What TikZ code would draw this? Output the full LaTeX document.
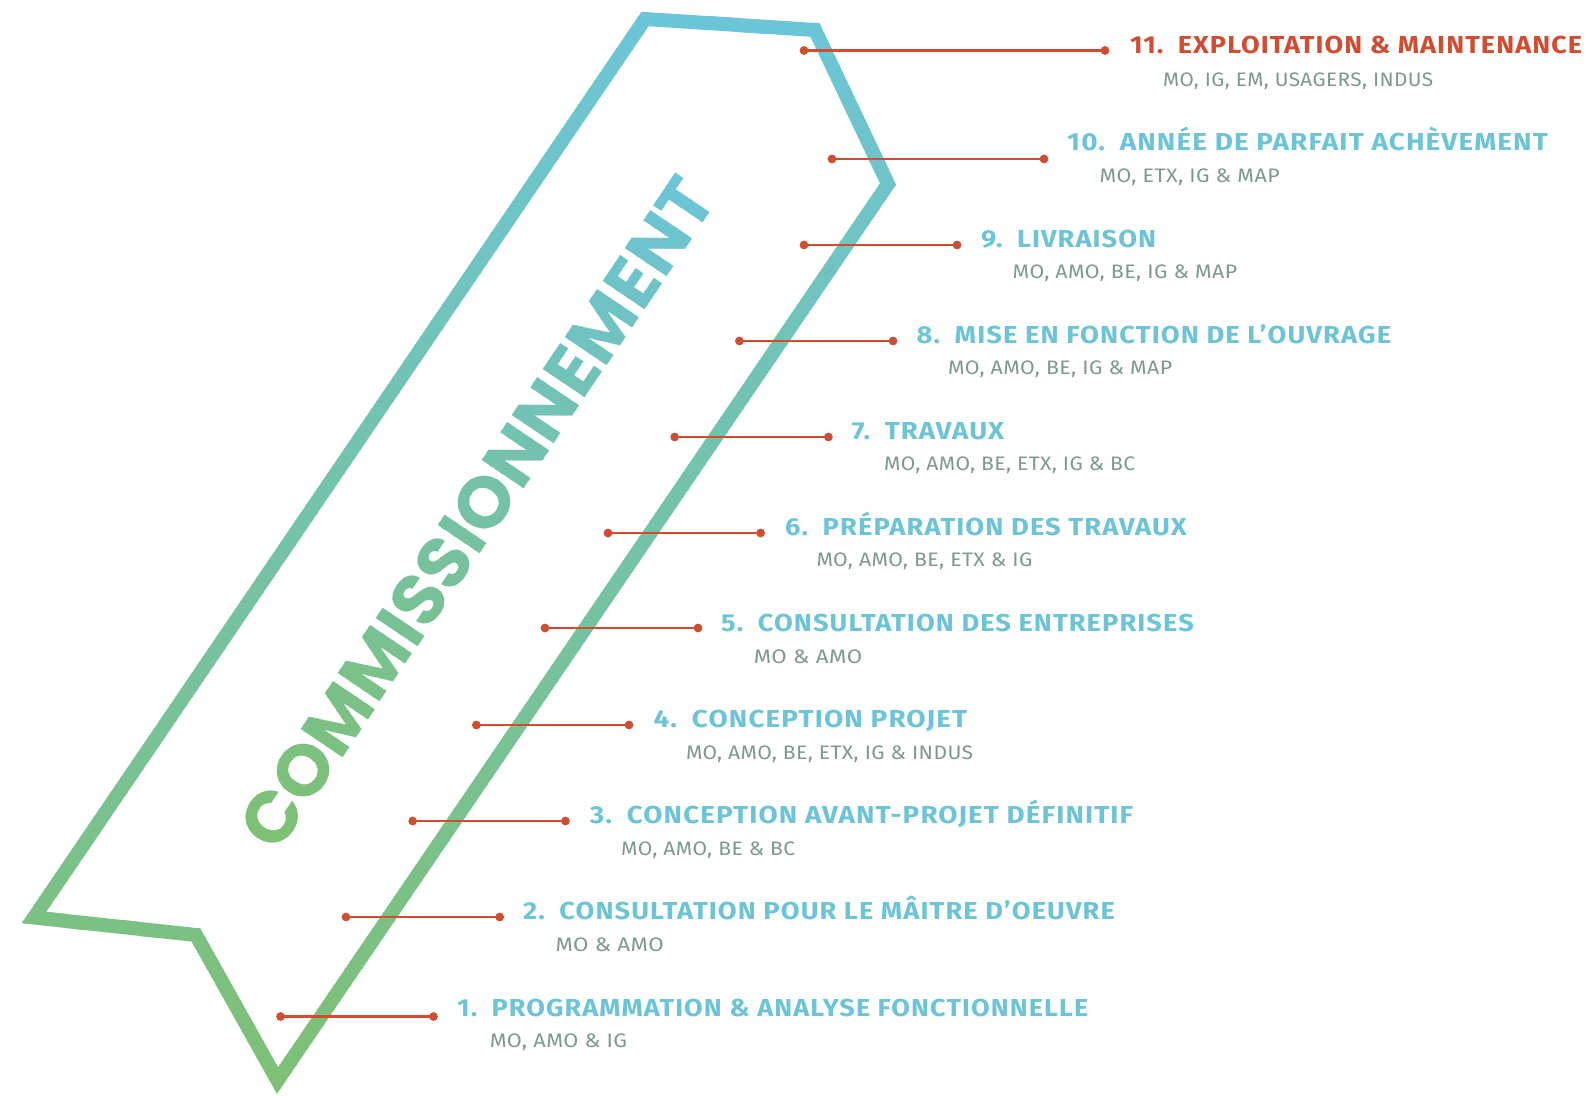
\documentclass[tikz,border=0pt]{standalone}
\usepackage{fontspec}
\usepackage{graphicx}
\setmainfont{Fira Sans}
\newfontfamily\ttlfont{Fira Sans}[LetterSpace=4]
\newfontfamily\subfont{Fira Sans}[LetterSpace=2]
\newfontfamily\commfont{Poppins}
\definecolor{ttlblue}{RGB}{108,196,214}
\definecolor{ttlred}{RGB}{209,77,50}
\definecolor{subgrey}{RGB}{124,154,140}
\definecolor{linered}{RGB}{209,77,50}
\definecolor{bannerblue}{RGB}{108,197,216}
\definecolor{bannergreen}{RGB}{126,192,116}
\newcommand{\ttlbox}[2]{\resizebox{#1pt}{\height}{\ttlfont\bfseries\fontsize{24.5}{28}\selectfont #2}}
\newcommand{\subbox}[2]{\resizebox{#1pt}{\height}{\subfont\fontsize{19.5}{22}\selectfont #2}}
\newcommand{\gp}{\hspace{13pt}}
\tikzset{
  ttl/.style={anchor=base west, inner sep=0pt, text=ttlblue},
  sub/.style={anchor=base west, inner sep=0pt, text=subgrey},
  conn/.style={draw=linered, line width=2.8pt},
  dotend/.style={fill=linered},
}
\begin{document}
\begin{tikzpicture}[x=1pt,y=-1pt]
\useasboundingbox (0,0) rectangle (1586,1095);
\fill[white] (0,0) rectangle (1586,1095);
% banner outline with vertical gradient (drawn in bands)
\foreach \i in {0,...,136} {
  \pgfmathsetmacro{\ya}{8*\i}
  \pgfmathsetmacro{\yb}{8*\i+9}
  \pgfmathsetmacro{\tg}{min(100,max(0,(8*\i+4-12)/10.81))}
  \begin{scope}
    \clip (0,\ya) rectangle (1586,\yb);
    \draw[line width=14pt, line join=miter, color=bannergreen!\tg!bannerblue]
      (645,19) -- (815,30) -- (888,184) -- (277.5,1080.5) -- (196,935) -- (34,917.5) -- cycle;
  \end{scope}
}
% rotated title with gradient
\foreach \i in {0,...,102} {
  \pgfmathsetmacro{\ya}{150+7*\i}
  \pgfmathsetmacro{\yb}{150+7*\i+8}
  \pgfmathsetmacro{\tg}{min(100,max(0,(7*\i+150+3.5-190)/6.4))}
  \begin{scope}
    \clip (0,\ya) rectangle (1586,\yb);
    \node[rotate=56, inner sep=0pt, text=bannergreen!\tg!ttlblue] (comm\i) at (477,513)
      {\resizebox{790pt}{\height}{\commfont\bfseries\fontsize{72}{80}\selectfont COMMISSIONNEMENT}};
  \end{scope}
}
% connectors
\coordinate (a1) at (280.5,1016.5);  \coordinate (b1) at (433.5,1016.5);
\coordinate (a2) at (346,917);       \coordinate (b2) at (499.7,917);
\coordinate (a3) at (412.7,821);     \coordinate (b3) at (565.4,821);
\coordinate (a4) at (476.4,725);     \coordinate (b4) at (629,725);
\coordinate (a5) at (545,628);       \coordinate (b5) at (698,628);
\coordinate (a6) at (608,533);       \coordinate (b6) at (760.6,533);
\coordinate (a7) at (674.7,437);     \coordinate (b7) at (828.4,437);
\coordinate (a8) at (739.4,341);     \coordinate (b8) at (893,341);
\coordinate (a9) at (804,245);       \coordinate (b9) at (957,245);
\coordinate (a10) at (832,159);      \coordinate (b10) at (1044,159);
\coordinate (a11) at (804,50.5);     \coordinate (b11) at (1105,50.5);
\foreach \k in {1,...,11} {
  \draw[conn] (a\k) -- (b\k);
  \fill[dotend] (a\k) circle (4.4pt);
  \fill[dotend] (b\k) circle (4.4pt);
}
% titles and subtitles
\node[ttl] (t1) at (457,1016) {\ttlbox{631}{1.\gp PROGRAMMATION \& ANALYSE FONCTIONNELLE}};
\node[sub] (s1) at (489.6,1047.5) {\subbox{137.4}{MO, AMO \& IG}};
\node[ttl] (t2) at (523,919.5) {\ttlbox{591.7}{2.\gp CONSULTATION POUR LE MÂITRE D’OEUVRE}};
\node[sub] (s2) at (555.3,951.3) {\subbox{108.2}{MO \& AMO}};
\node[ttl] (t3) at (589.7,823.5) {\ttlbox{543.3}{3.\gp CONCEPTION AVANT-PROJET DÉFINITIF}};
\node[sub] (s3) at (621,855.2) {\subbox{174}{MO, AMO, BE \& BC}};
\node[ttl] (t4) at (653.4,727.5) {\ttlbox{313.6}{4.\gp CONCEPTION PROJET}};
\node[sub] (s4) at (685.8,759.1) {\subbox{287.2}{MO, AMO, BE, ETX, IG \& INDUS}};
\node[ttl] (t5) at (721,631.5) {\ttlbox{472.6}{5.\gp CONSULTATION DES ENTREPRISES}};
\node[sub] (s5) at (753.6,663) {\subbox{108.4}{MO \& AMO}};
\node[ttl] (t6) at (785,535.5) {\ttlbox{401.5}{6.\gp PRÉPARATION DES TRAVAUX}};
\node[sub] (s6) at (816.3,566.9) {\subbox{216}{MO, AMO, BE, ETX \& IG}};
\node[ttl] (t7) at (851.7,439.5) {\ttlbox{152.3}{7.\gp TRAVAUX}};
\node[sub] (s7) at (884,470.8) {\subbox{251}{MO, AMO, BE, ETX, IG \& BC}};
\node[ttl] (t8) at (916.4,343.3) {\ttlbox{474.6}{8.\gp MISE EN FONCTION DE L’OUVRAGE}};
\node[sub] (s8) at (947.8,374.7) {\subbox{224.2}{MO, AMO, BE, IG \& MAP}};
\node[ttl] (t9) at (981,247.2) {\ttlbox{175}{9.\gp LIVRAISON}};
\node[sub] (s9) at (1012.5,278.6) {\subbox{224.5}{MO, AMO, BE, IG \& MAP}};
\node[ttl] (t10) at (1067,150) {\ttlbox{480.6}{10.\gp ANNÉE DE PARFAIT ACHÈVEMENT}};
\node[sub] (s10) at (1099.5,182.5) {\subbox{180}{MO, ETX, IG \& MAP}};
\node[ttl, text=ttlred] (t11) at (1130,53.5) {\ttlbox{452}{11.\gp EXPLOITATION \& MAINTENANCE}};
\node[sub] (s11) at (1163,86.5) {\subbox{270}{MO, IG, EM, USAGERS, INDUS}};
\end{tikzpicture}
\end{document}
